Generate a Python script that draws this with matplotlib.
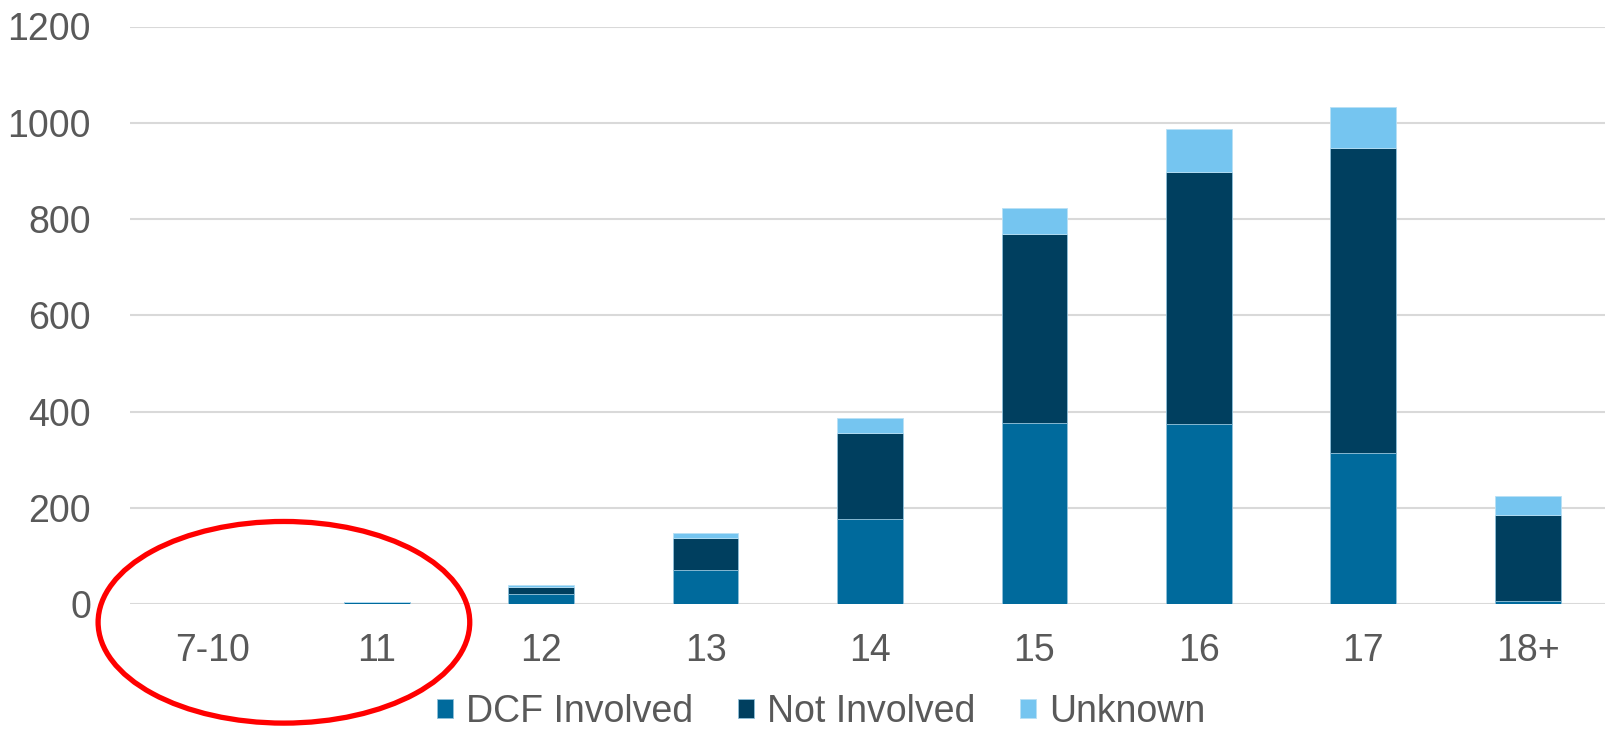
import matplotlib.pyplot as plt
from matplotlib.patches import Ellipse
import numpy as np

plt.rcParams['font.family'] = ['Liberation Sans', 'DejaVu Sans']

ages = ['7-10', '11', '12', '13', '14', '15', '16', '17', '18+']
dcf_involved = [0, 4, 21, 71, 177, 377, 374, 313, 7]
not_involved = [0, 0, 14, 66, 178, 391, 524, 634, 178]
unknown = [0, 0, 5, 11, 32, 55, 89, 85, 40]

c_dcf = '#006A9C'
c_not = '#003F5F'
c_unk = '#75C5F0'
txt = '#595959'

fig = plt.figure(figsize=(16.06, 7.30), dpi=100)
ax = fig.add_axes([130 / 1606, 126 / 730, 1480 / 1606, 577.5 / 730])

x = np.arange(len(ages))
w = 0.4
dcf = np.array(dcf_involved)
nin = np.array(not_involved)
unk = np.array(unknown)

ax.bar(x, dcf, w, color=c_dcf, edgecolor='#8fc0da', linewidth=0.6, label='DCF Involved', zorder=3)
ax.bar(x, nin, w, bottom=dcf, color=c_not, edgecolor='#8fc0da', linewidth=0.6, label='Not Involved', zorder=3)
ax.bar(x, unk, w, bottom=dcf + nin, color=c_unk, edgecolor='#b8e0f5', linewidth=0.6, label='Unknown', zorder=3)

ax.set_xlim(-0.5, 8.5)
ax.set_ylim(0, 1200)
ax.set_yticks(range(0, 1201, 200))
ax.set_xticks(x)
ax.set_xticklabels(ages)
ax.grid(axis='y', color='#D9D9D9', linewidth=1.5, zorder=0)
ax.set_axisbelow(True)
for s in ax.spines.values():
    s.set_visible(False)
ax.tick_params(axis='both', length=0, labelsize=27, colors=txt)
ax.tick_params(axis='y', pad=28)
ax.tick_params(axis='x', pad=21)

# highlight the youngest age groups
ell = Ellipse((0.436, -38), 2.26, 419, fill=False, edgecolor='#FF0000',
              linewidth=3.8, clip_on=False, zorder=5)
ax.add_patch(ell)

fig.legend(loc='center', bbox_to_anchor=(821 / 1606, 1 - 712 / 730), ncol=3,
           frameon=False, fontsize=27, labelcolor=txt, handlelength=0.42,
           handleheight=0.42, handletextpad=0.35, columnspacing=1.2)

fig.savefig('out.png', dpi=100)
